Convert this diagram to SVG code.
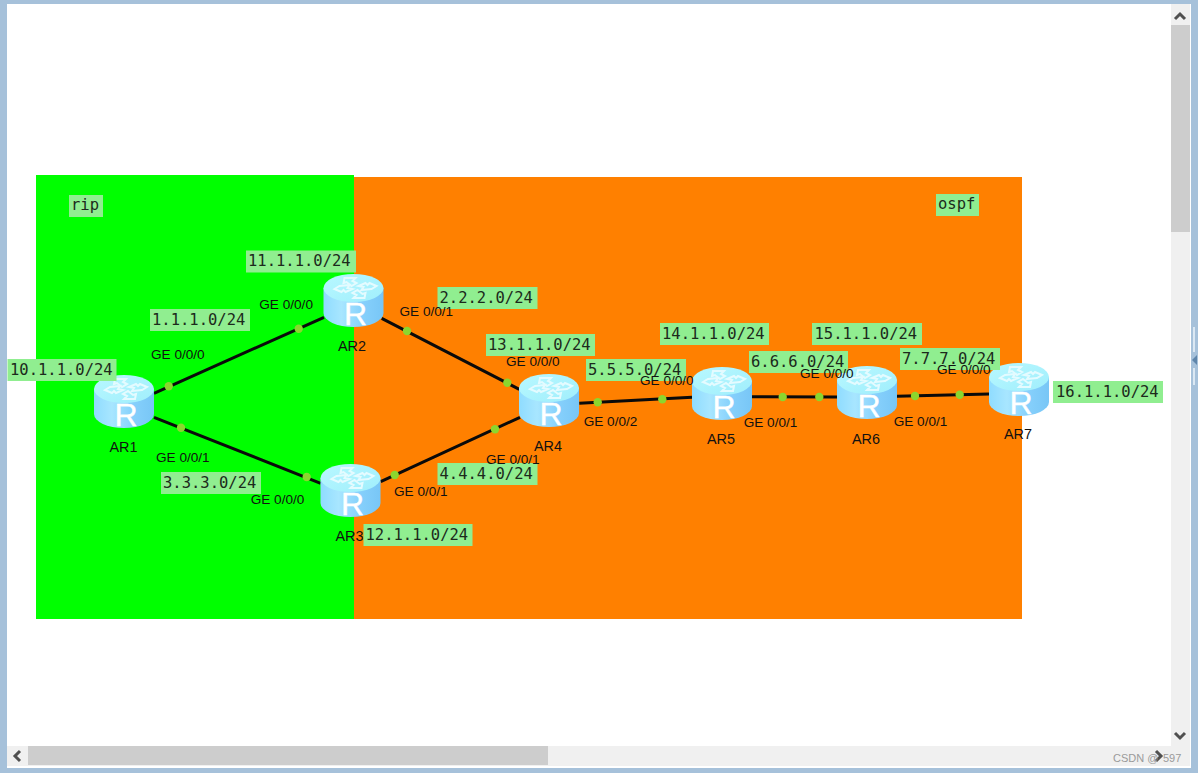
<svg xmlns="http://www.w3.org/2000/svg" width="1198" height="773" viewBox="0 0 1198 773">
<style>
.lbl{fill:#90ee90}
.net{font:15.5px "DejaVu Sans Mono","Liberation Mono",monospace;fill:#1c2a1c}
.port{font:13.6px "Liberation Sans",Arial,sans-serif;fill:#111}
.name{font:14.4px "Liberation Sans",Arial,sans-serif;fill:#111}
.r{font:32px "Liberation Sans",Arial,sans-serif;fill:#fff;stroke:#fff;stroke-width:.4;text-anchor:middle}
.link{stroke:#0a0a0a;stroke-width:3;fill:none}
.dot{fill:#8bd62e}
.chev{fill:none;stroke:#505050;stroke-width:3}
</style>
<defs>
<linearGradient id="body" x1="0" x2="1" y1="0" y2="0">
<stop offset="0" stop-color="#8fdcff"/><stop offset=".3" stop-color="#a8e6ff"/><stop offset=".65" stop-color="#86d0fc"/><stop offset="1" stop-color="#78c6f6"/>
</linearGradient>
<linearGradient id="top" x1="0" x2="1" y1="0" y2="1">
<stop offset="0" stop-color="#b8f8ff"/><stop offset="1" stop-color="#a0eefc"/>
</linearGradient>
<g id="router">
<path d="M0 14V39A30 14 0 0 0 60 39V14Z" fill="url(#body)"/>
<ellipse cx="30" cy="14" rx="30" ry="14" fill="url(#top)"/>
<g fill="none" stroke="#e4fbff" stroke-width="2">
<path d="M21 4H32L29 7L33 9L28 12L23 8L20 9Z"/>
<path d="M16 12L26 11L24 14L29 15L22 18L20 16L18 18L11 15Z"/>
<path d="M48 15L38 16L40 13L35 12L42 9L44 11L46 9L53 12Z"/>
<path d="M41 24H30L33 21L29 19L34 16L39 20L42 19Z"/>
</g>
</g>
</defs>
<rect width="1198" height="773" fill="#a6c1da"/>
<rect x="7" y="4" width="1184" height="764" fill="#fff"/>
<g id="areas">
<rect x="354" y="177" width="668" height="442" fill="#ff8000"/>
<rect x="36" y="175" width="318" height="444" fill="#00ff00"/>
</g>
<g id="connectors">
<path class="link" d="M154 393.3L324 317.3M154 417.3L320.7 483.3M381.7 318.3L519.3 389.3M380.7 481.7L520 417.3M579.3 403.3L692 397.3M751.7 396.7L837 397M896.7 396.3L989 394"/>
<g class="dot">
<circle cx="168.7" cy="386.3" r="4.2"/><circle cx="298.7" cy="328.7" r="4.2"/>
<circle cx="181" cy="427.7" r="4.2"/><circle cx="306.7" cy="477" r="4.2"/>
<circle cx="407" cy="331" r="4.2"/><circle cx="507.3" cy="382.7" r="4.2"/>
<circle cx="394.7" cy="475" r="4.2"/><circle cx="495" cy="429.3" r="4.2"/>
<circle cx="597.7" cy="402.3" r="4.2"/><circle cx="662.3" cy="399.3" r="4.2"/>
<circle cx="782.7" cy="397" r="4.2"/><circle cx="819.3" cy="397" r="4.2"/>
<circle cx="915" cy="396" r="4.2"/><circle cx="959.7" cy="394.7" r="4.2"/>
</g>
</g>
<g id="AR1"><use href="#router" x="94" y="375"/><text class="r" x="126" y="426">R</text><text class="name" x="109.5" y="452">AR1</text></g>
<g id="AR2"><use href="#router" x="323.5" y="274"/><text class="r" x="355.5" y="325">R</text><text class="name" x="338" y="351">AR2</text></g>
<g id="AR3"><use href="#router" x="320.5" y="464"/><text class="r" x="352.5" y="515">R</text><text class="name" x="335.5" y="541">AR3</text></g>
<g id="AR4"><use href="#router" x="519" y="374"/><text class="r" x="551" y="425">R</text><text class="name" x="534" y="451">AR4</text></g>
<g id="AR5"><use href="#router" x="692" y="367"/><text class="r" x="724" y="418">R</text><text class="name" x="707" y="444">AR5</text></g>
<g id="AR6"><use href="#router" x="837" y="366"/><text class="r" x="869" y="417">R</text><text class="name" x="852" y="444">AR6</text></g>
<g id="AR7"><use href="#router" x="989" y="363"/><text class="r" x="1021" y="414">R</text><text class="name" x="1004" y="439">AR7</text></g>
<g id="labels">
<rect class="lbl" x="69" y="195" width="34" height="22"/><text class="net" x="71" y="210">rip</text>
<rect class="lbl" x="936" y="194" width="43" height="22"/><text class="net" x="938" y="209">ospf</text>
<rect class="lbl" x="7.5" y="359" width="109" height="22"/><text class="net" x="10" y="374.5">10.1.1.0/24</text>
<rect class="lbl" x="246" y="250.5" width="110" height="22"/><text class="net" x="248" y="265.5">11.1.1.0/24</text>
<rect class="lbl" x="150" y="309" width="100" height="22"/><text class="net" x="152" y="324.5">1.1.1.0/24</text>
<rect class="lbl" x="161" y="472" width="100" height="22"/><text class="net" x="163" y="487.5">3.3.3.0/24</text>
<rect class="lbl" x="363.5" y="524" width="109" height="22"/><text class="net" x="365.5" y="539.5">12.1.1.0/24</text>
<rect class="lbl" x="437.5" y="287" width="100" height="22"/><text class="net" x="439.5" y="302.5">2.2.2.0/24</text>
<rect class="lbl" x="486" y="334" width="109" height="22"/><text class="net" x="488" y="349.5">13.1.1.0/24</text>
<rect class="lbl" x="586" y="359" width="100" height="22"/><text class="net" x="588" y="374.5">5.5.5.0/24</text>
<rect class="lbl" x="437.5" y="463" width="100" height="22"/><text class="net" x="439.5" y="478.5">4.4.4.0/24</text>
<rect class="lbl" x="660" y="323" width="109" height="22"/><text class="net" x="662" y="338.5">14.1.1.0/24</text>
<rect class="lbl" x="749" y="351" width="99" height="22"/><text class="net" x="751" y="366.5">6.6.6.0/24</text>
<rect class="lbl" x="812" y="323" width="110" height="22"/><text class="net" x="814.5" y="338.5">15.1.1.0/24</text>
<rect class="lbl" x="900" y="348" width="100" height="22"/><text class="net" x="902" y="363.5">7.7.7.0/24</text>
<rect class="lbl" x="1053" y="381" width="110" height="22"/><text class="net" x="1056" y="396.5">16.1.1.0/24</text>
</g>
<g id="ports">
<text class="port" x="151" y="359">GE 0/0/0</text>
<text class="port" x="156" y="461.5">GE 0/0/1</text>
<text class="port" x="259.3" y="309">GE 0/0/0</text>
<text class="port" x="250.7" y="504">GE 0/0/0</text>
<text class="port" x="399.5" y="316">GE 0/0/1</text>
<text class="port" x="394" y="496">GE 0/0/1</text>
<text class="port" x="506" y="366">GE 0/0/0</text>
<text class="port" x="486" y="463.5">GE 0/0/1</text>
<text class="port" x="583.7" y="426">GE 0/0/2</text>
<text class="port" x="640" y="385">GE 0/0/0</text>
<text class="port" x="743.7" y="427">GE 0/0/1</text>
<text class="port" x="800" y="377.5">GE 0/0/0</text>
<text class="port" x="893.7" y="426">GE 0/0/1</text>
<text class="port" x="937" y="373.5">GE 0/0/0</text>
</g>
<g id="scrollbars">
<rect x="1171" y="4" width="19" height="762" fill="#f0f0f0"/>
<rect x="7" y="746" width="1183" height="20" fill="#f0f0f0"/>
<rect x="1171" y="25" width="19" height="207" fill="#cdcdcd"/>
<rect x="28" y="746" width="520" height="19" fill="#cdcdcd"/>
<path class="chev" d="M1175 19L1180 14L1185 19M1175 733L1180 738L1185 733M20 751L15 756L20 761M1156 751L1161 756L1156 761"/>
<path d="M1193 327h2v25l-2 0zM1193 368h2v17h-2z" fill="#dbe8f3"/>
<path d="M1197 355l-5 5 5 5z" fill="#5f86ab"/>
</g>
<text x="1113" y="762" style="font:11px 'Liberation Sans',Arial,sans-serif;fill:#9a9a9a">CSDN @</text>
<text x="1163" y="762" style="font:11px 'Liberation Sans',Arial,sans-serif;fill:#9a9a9a">597</text>
</svg>
